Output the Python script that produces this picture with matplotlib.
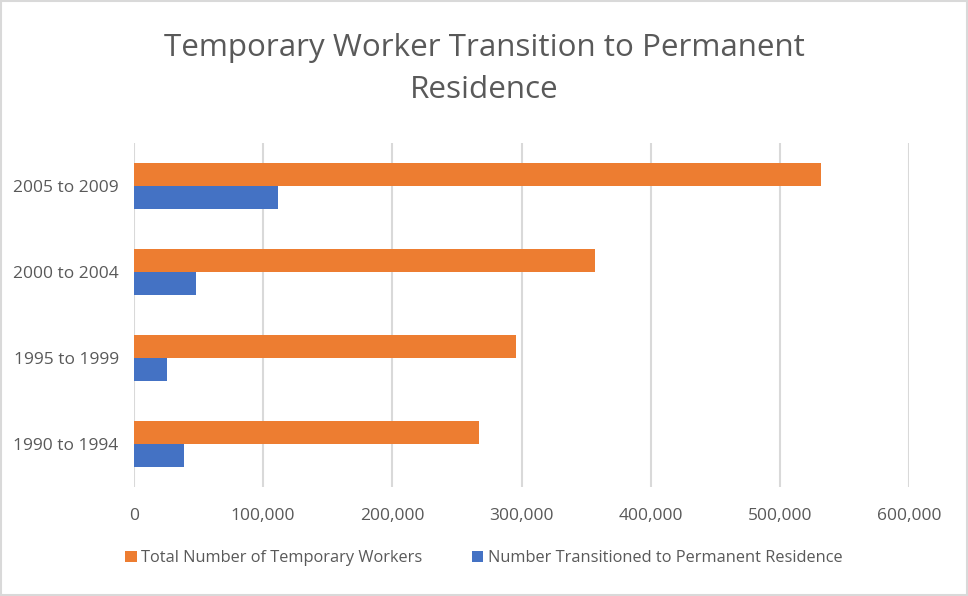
import matplotlib
matplotlib.use('Agg')
import matplotlib.pyplot as plt
import numpy as np
from matplotlib.patches import Rectangle

plt.rcParams['font.family'] = ['Open Sans', 'DejaVu Sans']

# data
periods = ['1990 to 1994', '1995 to 1999', '2000 to 2004', '2005 to 2009']
total_workers = [267000, 296000, 357000, 532000]
transitioned = [39000, 25500, 48000, 111500]
xticks = [0, 100000, 200000, 300000, 400000, 500000, 600000]

grey = '#595959'
fig = plt.figure(figsize=(9.68, 5.96), dpi=100)
ax = fig.add_axes([134/968, 1 - 487/596, (909-134)/968, (487-143)/596])

y = np.arange(len(periods))
h = 0.267
ax.barh(y + h/2, total_workers, height=h, color='#ED7D31', label='Total Number of Temporary Workers', zorder=3)
ax.barh(y - h/2, transitioned, height=h, color='#4472C4', label='Number Transitioned to Permanent Residence', zorder=3)

ax.set_xlim(0, 600000)
ax.set_ylim(-0.5, 3.5)
ax.set_xticks(xticks)
ax.set_xticklabels([f'{v:,}' for v in xticks], color=grey, fontsize=12.5)
ax.set_yticks(y)
ax.set_yticklabels(periods, color=grey, fontsize=12.5)
ax.tick_params(length=0, pad=15)
ax.tick_params(axis='y', pad=11)
ax.grid(axis='x', color='#d9d9d9', linewidth=1.5, zorder=0)
for s in ax.spines.values():
    s.set_visible(False)

fig.text(0.5, 1 - 69/596, 'Temporary Worker Transition to Permanent\nResidence', ha='center', va='center',
         fontsize=22.6, color=grey, linespacing=1.55)

fig.legend(loc='center', bbox_to_anchor=(0.5, 1 - 558/596), ncol=2, frameon=False,
           fontsize=11.8, labelcolor=grey, handlelength=0.7, handleheight=0.7,
           handletextpad=0.3, columnspacing=3.0)

fig.patches.append(Rectangle((0.001, 0.001), 0.998, 0.997, transform=fig.transFigure,
                             fill=False, edgecolor='#d9d9d9', linewidth=1.5))

fig.savefig('out.png', dpi=100)
